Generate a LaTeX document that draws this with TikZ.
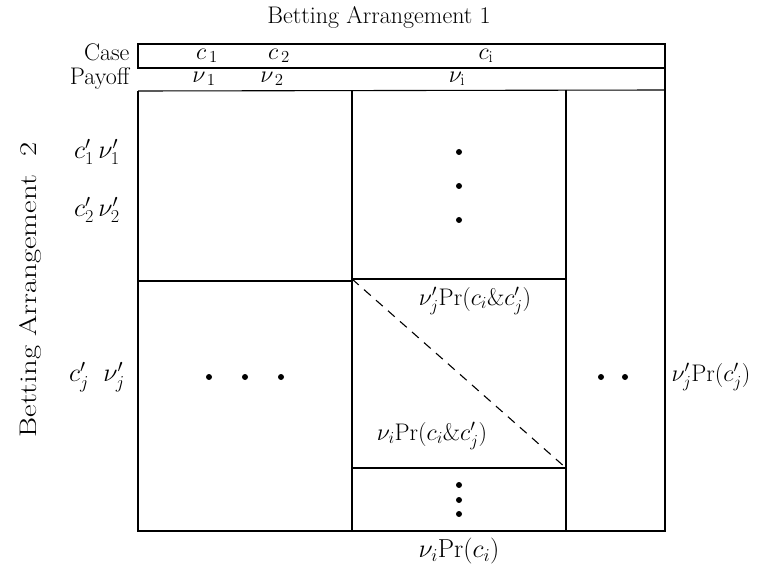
\RequirePackage{fix-cm}
\documentclass[tikz,border=0pt]{standalone}
\usepackage{amsmath}
\usepackage{fontspec}
\usepackage{tikz}
\usetikzlibrary{positioning,calc}

\begin{document}
\begin{tikzpicture}[x=1pt, y=-1pt, line width=1.1pt,
    every node/.style={font=\fontsize{24}{28}\selectfont, inner sep=1pt},
    big/.style={font=\fontsize{26}{30}\selectfont},
    dot/.style={circle, fill=black, inner sep=0pt, minimum size=6pt}]
    \useasboundingbox (0,0) rectangle (763,569);

    \node (title) at (379, 17) {Betting Arrangement 1};
    \node[anchor=east] (case) at (131, 52) {Case};
    \node[anchor=east] (payoff) at (131, 79) {Payoff};
    \node[rotate=90, xscale=1.28] (arr2) at (30, 290) {Betting Arrangement\ \ 2};

    % header rows
    \draw (138, 44) rectangle (665, 68);
    \draw (138, 68) -- (665, 68);
    \draw (138, 91) -- (665, 90);
    \node (c1) at (207, 56) {$c_{\,1}$};
    \node (c2) at (279, 56) {$c_{\,2}$};
    \node (ci) at (486, 56) {$c_{\mathrm{i}}$};
    \node (v1) at (204, 79) {$\nu_{\,1}$};
    \node (v2) at (272, 79) {$\nu_{\,2}$};
    \node (vi) at (457, 79) {$\nu_{\mathrm{i}}$};

    % main grid
    \draw (138, 91) -- (138, 531) -- (665, 531) -- (665, 44);
    \draw (352, 91) -- (352, 531);
    \draw (566, 90) -- (566, 531);
    \draw (138, 281) -- (352, 281);
    \draw[line width=1.6pt] (352, 279) rectangle (566, 468);
    \draw[dash pattern=on 9pt off 7pt] (352, 279) -- (566, 468);

    % rows of arrangement 2
    \node[big] (r1) at (97, 152) {$c'_{1}\,\nu'_{1}$};
    \node[big] (r2) at (97, 210) {$c'_{2}\,\nu'_{2}$};
    \node[big] (rj) at (97, 377) {$c'_{j}\;\;\nu'_{j}$};

    % dots
    \foreach \y in {152, 186, 220} \node[dot] at (459, \y) {};
    \foreach \x in {209, 245, 281} \node[dot] at (\x, 377) {};
    \foreach \x in {601, 625} \node[dot] at (\x, 377) {};
    \foreach \y in {485, 500, 514} \node[dot] at (459, \y) {};

    % entries
    \node (top) at (475, 301) {$\nu'_{j}\mathrm{Pr}(c_{i}\&c'_{j})$};
    \node (bot) at (432, 436) {$\nu_{i}\mathrm{Pr}(c_{i}\&c'_{j})$};
    \node[anchor=west] (marg) at (670, 377) {$\nu'_{j}\mathrm{Pr}(c'_{j})$};
    \node[big] (colm) at (459, 551) {$\nu_{i}\mathrm{Pr}(c_{i})$};
\end{tikzpicture}
\end{document}
